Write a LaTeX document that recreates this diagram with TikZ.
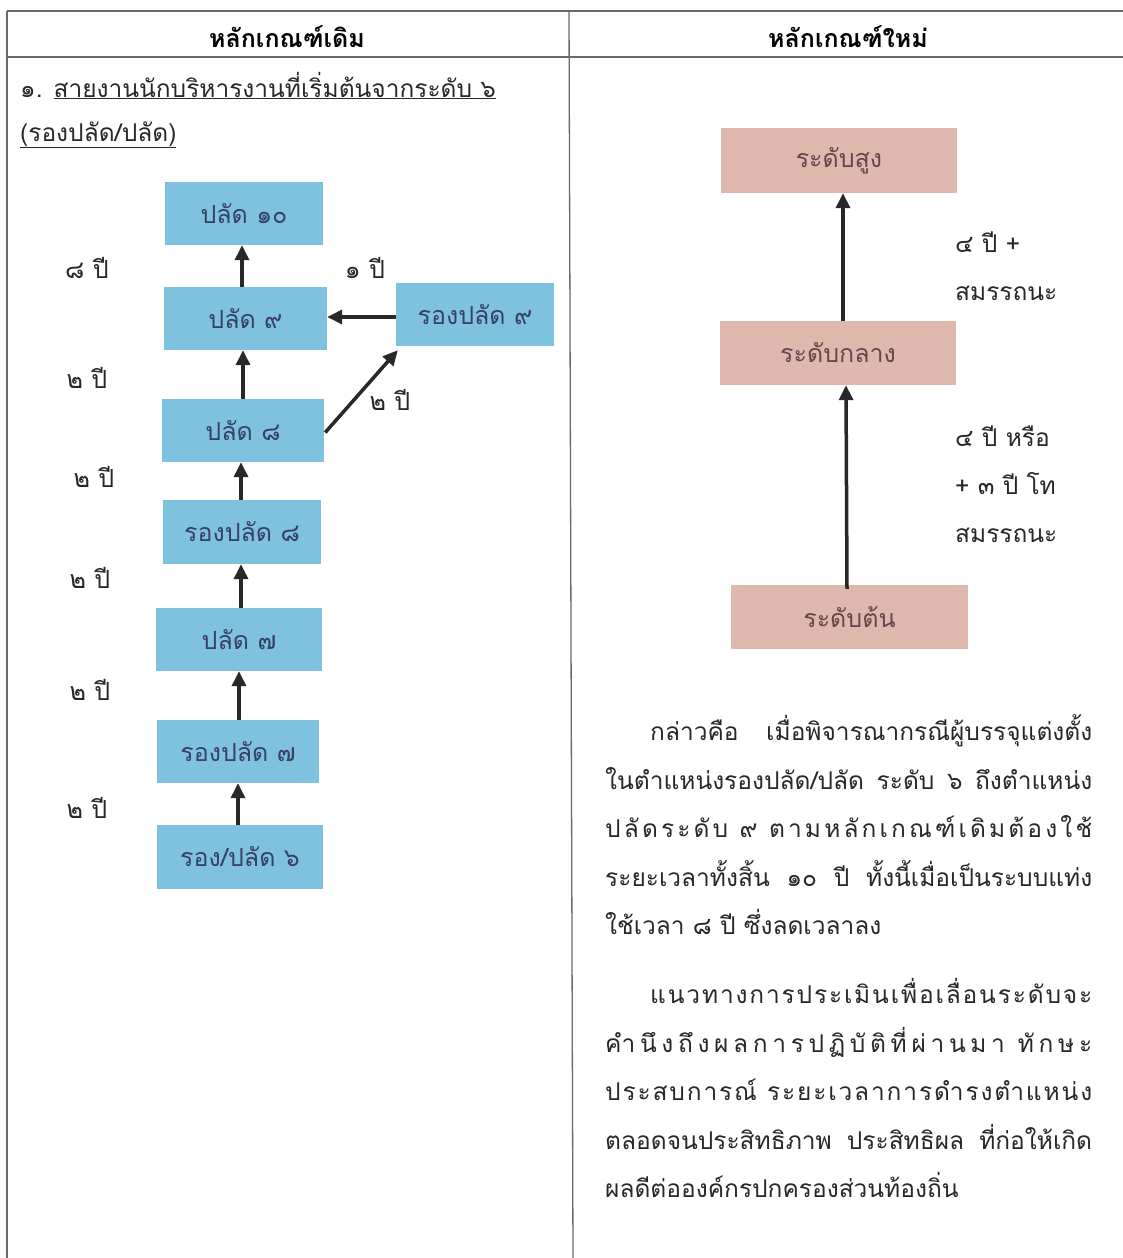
\documentclass[tikz,border=0pt]{standalone}
\usepackage{fontspec}
\setmainfont[Script=Thai]{Loma}
\usetikzlibrary{arrows.meta}
\definecolor{gridc}{RGB}{105,105,105}
\definecolor{bluefill}{RGB}{126,194,224}
\definecolor{bluetext}{RGB}{55,65,100}
\definecolor{pinkfill}{RGB}{222,184,172}
\definecolor{pinktext}{RGB}{100,70,75}
\definecolor{inkc}{RGB}{40,40,40}
\newcommand\lsp{\hskip 0pt plus 1fil\relax}
\tikzset{
  bbox/.style={fill=bluefill, draw=none, text=bluetext, font=\fontsize{25}{30}\selectfont, inner sep=0pt},
  pbox/.style={fill=pinkfill, draw=none, text=pinktext, font=\fontsize{25}{30}\selectfont, inner sep=0pt, minimum width=236pt, minimum height=64pt},
  arr/.style={draw=inkc, line width=3.5pt, -{Triangle[length=15pt,width=14pt]}},
  yr/.style={text=inkc, font=\fontsize{25}{30}\selectfont, inner sep=0pt, anchor=base},
  body/.style={text=inkc, font=\fontsize{24.5}{29}\selectfont, inner sep=0pt, anchor=base west},
  hdr/.style={text=black, font=\bfseries\fontsize{25}{30}\selectfont, inner sep=0pt},
  grid/.style={draw=gridc, line width=1.3pt}
}
\begin{document}
\begin{tikzpicture}[x=1pt,y=-1pt]
\useasboundingbox[fill=white] (0,0) rectangle (1123,1258);
% table lines
\draw[grid] (7,11) -- (1123,11);
\draw[grid] (7,57) -- (1123,57);
\draw[grid] (7,11) -- (7,1258);
\draw[grid] (569,11) -- (573,1258);
% headers
\node[hdr] (h1) at (287,37) {หลักเกณฑ์เดิม};
\node[hdr] (h2) at (848,37) {หลักเกณฑ์ใหม่};
% left heading text
\node[body] (t1) at (20,97) {๑. \underline{สายงานนักบริหารงานที่เริ่มต้นจากระดับ ๖}};
\node[body] (t2) at (20,141) {\underline{(รองปลัด/ปลัด)}};
% blue boxes
\node[bbox, minimum width=158pt, minimum height=63pt] (p10) at (244,213.5) {ปลัด ๑๐};
\node[bbox, minimum width=163pt, minimum height=63pt] (p9) at (245.5,318.5) {ปลัด ๙};
\node[bbox, minimum width=158pt, minimum height=63pt] (r9) at (475,314.5) {รองปลัด ๙};
\node[bbox, minimum width=162pt, minimum height=63pt] (p8) at (243,430.5) {ปลัด ๘};
\node[bbox, minimum width=158pt, minimum height=64pt] (r8) at (242,532) {รองปลัด ๘};
\node[bbox, minimum width=166pt, minimum height=63pt] (p7) at (239,639.5) {ปลัด ๗};
\node[bbox, minimum width=162pt, minimum height=63pt] (r7) at (238,751.5) {รองปลัด ๗};
\node[bbox, minimum width=166pt, minimum height=64pt] (r6) at (240,857) {รอง/ปลัด ๖};
% blue arrows
\draw[arr] (p9.north -| 242,0) -- (p10.south -| 242,0);
\draw[arr] (p8.north -| 243,0) -- (p9.south -| 243,0);
\draw[arr] (r8.north -| 241,0) -- (p8.south -| 241,0);
\draw[arr] (p7.north -| 241,0) -- (r8.south -| 241,0);
\draw[arr] (r7.north -| 239,0) -- (p7.south -| 239,0);
\draw[arr] (r6.north -| 238,0) -- (r7.south -| 238,0);
\draw[arr] (r9.west |- 0,317) -- (p9.east |- 0,317);
\draw[arr] ([xshift=1pt,yshift=-2pt]p8.east) -- ([xshift=2pt,yshift=-4pt]r9.south west);
% year labels
\node[yr] (y1) at (87,278) {๘ ปี};
\node[yr] (y2) at (365,278) {๑ ปี};
\node[yr] (y3) at (87,388) {๒ ปี};
\node[yr] (y4) at (390,410) {๒ ปี};
\node[yr] (y5) at (94,487) {๒ ปี};
\node[yr] (y6) at (90,588) {๒ ปี};
\node[yr] (y7) at (90,700) {๒ ปี};
\node[yr] (y8) at (87,818) {๒ ปี};
% pink boxes
\node[pbox, minimum height=65pt] (hi) at (839,160.5) {ระดับสูง};
\node[pbox] (mid) at (838,353) {ระดับกลาง};
\node[pbox, minimum width=237pt] (lo) at (849.5,617) {ระดับต้น};
\draw[arr] (mid.north -| 843,0) -- (hi.south -| 843,0);
\draw[arr] ([yshift=-4pt]lo.north -| 847,0) -- (mid.south -| 846,0);
% right labels
\node[body] (q1) at (955,252) {๔ ปี +};
\node[body] (q2) at (955,300) {สมรรถนะ};
\node[body] (q3) at (955,446) {๔ ปี หรือ};
\node[body] (q4) at (955,494) {+ ๓ ปี โท};
\node[body] (q5) at (955,542) {สมรรถนะ};
% paragraph 1
\node[body] (a1) at (650,740) {\makebox[442pt][s]{กล่าวคือ เมื่อพิจารณากรณีผู้บรรจุแต่งตั้ง}};
\node[body] (a2) at (605,789) {\makebox[487pt][s]{ในตำแหน่งรองปลัด/ปลัด ระดับ ๖ ถึงตำแหน่ง}};
\node[body] (a3) at (605,837) {\makebox[487pt][s]{ป\lsp ลั\lsp ด\lsp ร\lsp ะ\lsp ดั\lsp บ \lsp ๙ \lsp ต\lsp า\lsp ม\lsp ห\lsp ลั\lsp ก\lsp เ\lsp ก\lsp ณ\lsp ฑ์\lsp เ\lsp ดิ\lsp ม\lsp ต้\lsp อ\lsp ง\lsp ใ\lsp ช้}};
\node[body] (a4) at (605,886) {\makebox[487pt][s]{ระยะเวลาทั้งสิ้น ๑๐ ปี ทั้งนี้เมื่อเป็นระบบแท่ง}};
\node[body] (a5) at (605,934) {ใช้เวลา ๘ ปี ซึ่งลดเวลาลง};
% paragraph 2
\node[body] (b1) at (650,1003) {\makebox[442pt][s]{แ\lsp น\lsp ว\lsp ท\lsp า\lsp ง\lsp ก\lsp า\lsp ร\lsp ป\lsp ร\lsp ะ\lsp เ\lsp มิ\lsp น\lsp เ\lsp พื่\lsp อ\lsp เ\lsp ลื่\lsp อ\lsp น\lsp ร\lsp ะ\lsp ดั\lsp บ\lsp จ\lsp ะ}};
\node[body] (b2) at (605,1052) {\makebox[487pt][s]{คำ\lsp นึ\lsp ง\lsp ถึ\lsp ง\lsp ผ\lsp ล\lsp ก\lsp า\lsp ร\lsp ป\lsp ฏิ\lsp บั\lsp ติ\lsp ที่\lsp ผ่\lsp า\lsp น\lsp ม\lsp า \lsp ทั\lsp ก\lsp ษ\lsp ะ}};
\node[body] (b3) at (605,1100) {\makebox[487pt][s]{ป\lsp ร\lsp ะ\lsp ส\lsp บ\lsp ก\lsp า\lsp ร\lsp ณ์ \lsp ร\lsp ะ\lsp ย\lsp ะ\lsp เ\lsp ว\lsp ล\lsp า\lsp ก\lsp า\lsp ร\lsp ดำ\lsp ร\lsp ง\lsp ตำ\lsp แ\lsp ห\lsp น่\lsp ง}};
\node[body] (b4) at (605,1149) {\makebox[487pt][s]{ตลอดจนประสิทธิภาพ ประสิทธิผล ที่ก่อให้เกิด}};
\node[body] (b5) at (605,1197) {ผลดีต่อองค์กรปกครองส่วนท้องถิ่น};
\end{tikzpicture}
\end{document}
